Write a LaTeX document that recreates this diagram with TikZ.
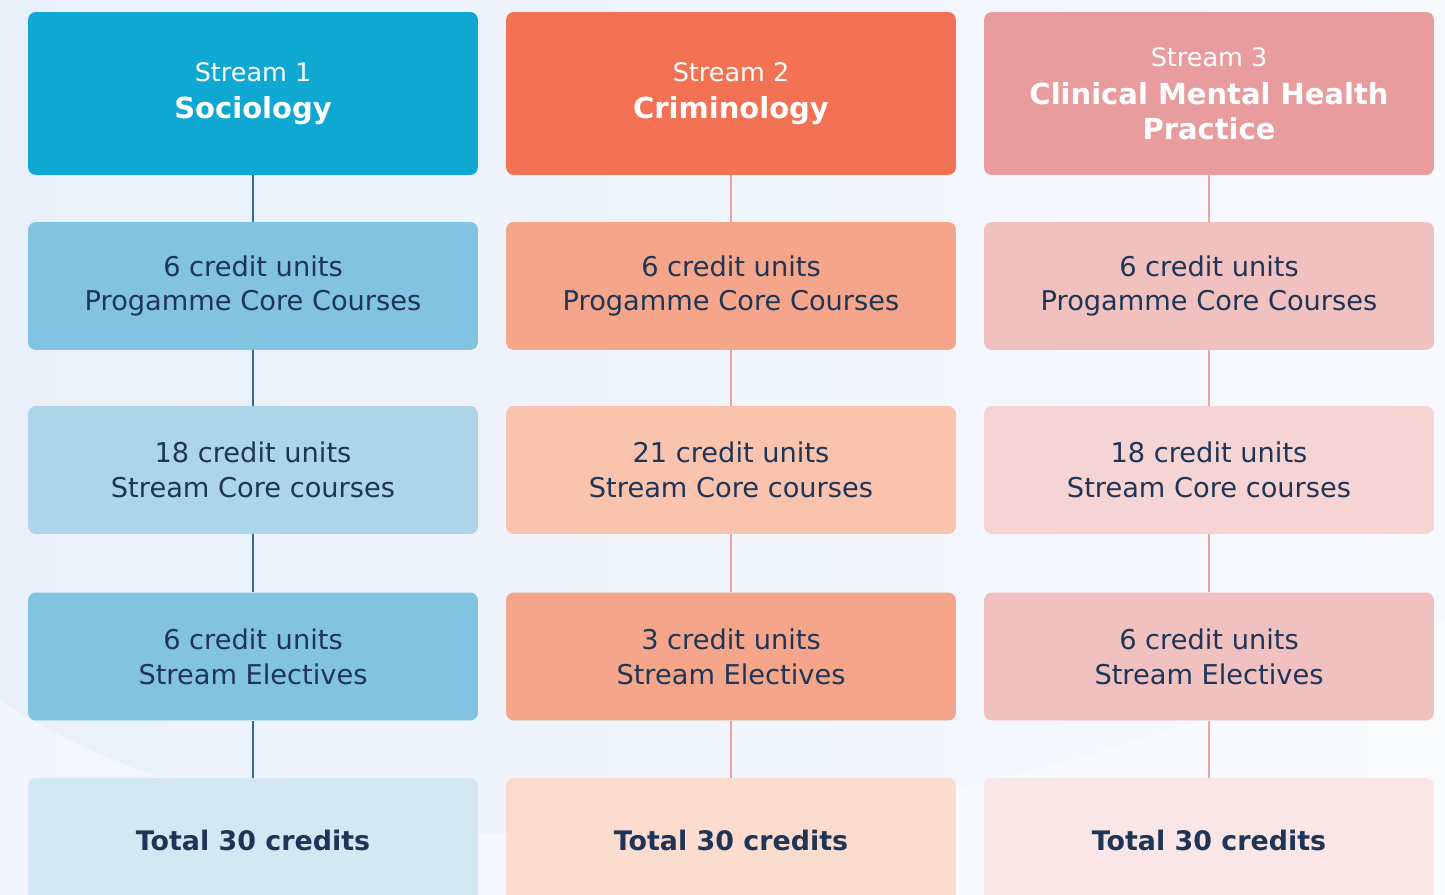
\documentclass[tikz,border=0pt]{standalone}
\usepackage{fontspec}
\setmainfont{DejaVu Sans}
\usetikzlibrary{positioning}
\usepackage{xcolor}

\definecolor{navy}{HTML}{1E3558}
\definecolor{bgleft}{HTML}{EAF0FA}
\definecolor{bgright}{HTML}{F7F9FD}
% stream 1 (blue)
\definecolor{sOneHead}{HTML}{0EA8D3}
\definecolor{sOneMid}{HTML}{82C3E1}
\definecolor{sOneLight}{HTML}{ACD5EA}
\definecolor{sOneTotal}{HTML}{D4E8F3}
\definecolor{sOneLine}{HTML}{2E6A99}
% stream 2 (orange)
\definecolor{sTwoHead}{HTML}{F37254}
\definecolor{sTwoMid}{HTML}{F5A589}
\definecolor{sTwoLight}{HTML}{FAC3AD}
\definecolor{sTwoTotal}{HTML}{FDDCD0}
% stream 3 (pink)
\definecolor{sThreeHead}{HTML}{E99C9E}
\definecolor{sThreeMid}{HTML}{F1C1C0}
\definecolor{sThreeLight}{HTML}{F6D4D3}
\definecolor{sThreeTotal}{HTML}{FAE6E6}
\definecolor{pinkline}{HTML}{E9A3A5}

\newcommand{\streamlbl}{\fontsize{14.5}{20}\selectfont}
\newcommand{\titlelbl}{\fontsize{16.5}{21}\selectfont\bfseries}

\begin{document}
\begin{tikzpicture}[x=0.02cm, y=-0.02cm,
    box/.style={rounded corners=4.5pt, minimum width=9cm, minimum height=2.56cm,
      align=center, text=navy, font=\fontsize{15.5}{19.8}\selectfont, inner sep=0pt},
    headbox/.style={box, minimum height=3.26cm, text=white},
    totalbox/.style={box, minimum height=2.48cm, font=\fontsize{15.3}{19.8}\selectfont\bfseries},
    link/.style={line width=1.3pt}]

    % Background
    \clip (0,0) rectangle (1445,895);
    \useasboundingbox (0,0) rectangle (1445,895);
    \shade[left color=bgleft, right color=bgright] (0,0) rectangle (1445,895);
    \fill[white, opacity=0.4] (0,700) .. controls (300,900) and (900,880) .. (1445,620)
      -- (1445,895) -- (0,895) -- cycle;

    % Stream 1 nodes
    \node[headbox, fill=sOneHead] (s1head) at (253,93.5)
      {\streamlbl Stream 1\\[1pt]\titlelbl Sociology};
    \node[box, fill=sOneMid] (s1core) at (253,286) {6 credit units\\Progamme Core Courses};
    \node[box, fill=sOneLight] (s1stream) at (253,470) {18 credit units\\Stream Core courses};
    \node[box, fill=sOneMid] (s1elec) at (253,656.5) {6 credit units\\Stream Electives};
    \node[totalbox, fill=sOneTotal] (s1total) at (253,840) {Total 30 credits};

    % Stream 2 nodes
    \node[headbox, fill=sTwoHead] (s2head) at (731,93.5)
      {\streamlbl Stream 2\\[1pt]\titlelbl Criminology};
    \node[box, fill=sTwoMid] (s2core) at (731,286) {6 credit units\\Progamme Core Courses};
    \node[box, fill=sTwoLight] (s2stream) at (731,470) {21 credit units\\Stream Core courses};
    \node[box, fill=sTwoMid] (s2elec) at (731,656.5) {3 credit units\\Stream Electives};
    \node[totalbox, fill=sTwoTotal] (s2total) at (731,840) {Total 30 credits};

    % Stream 3 nodes
    \node[headbox, fill=sThreeHead] (s3head) at (1209,93.5)
      {\streamlbl Stream 3\\[2pt]\titlelbl Clinical Mental Health\\\titlelbl Practice};
    \node[box, fill=sThreeMid] (s3core) at (1209,286) {6 credit units\\Progamme Core Courses};
    \node[box, fill=sThreeLight] (s3stream) at (1209,470) {18 credit units\\Stream Core courses};
    \node[box, fill=sThreeMid] (s3elec) at (1209,656.5) {6 credit units\\Stream Electives};
    \node[totalbox, fill=sThreeTotal] (s3total) at (1209,840) {Total 30 credits};

    % Connectors
    \draw[link, sOneLine] (s1head) -- (s1core) -- (s1stream) -- (s1elec) -- (s1total);
    \draw[link, pinkline] (s2head) -- (s2core) -- (s2stream) -- (s2elec) -- (s2total);
    \draw[link, pinkline] (s3head) -- (s3core) -- (s3stream) -- (s3elec) -- (s3total);
\end{tikzpicture}
\end{document}
